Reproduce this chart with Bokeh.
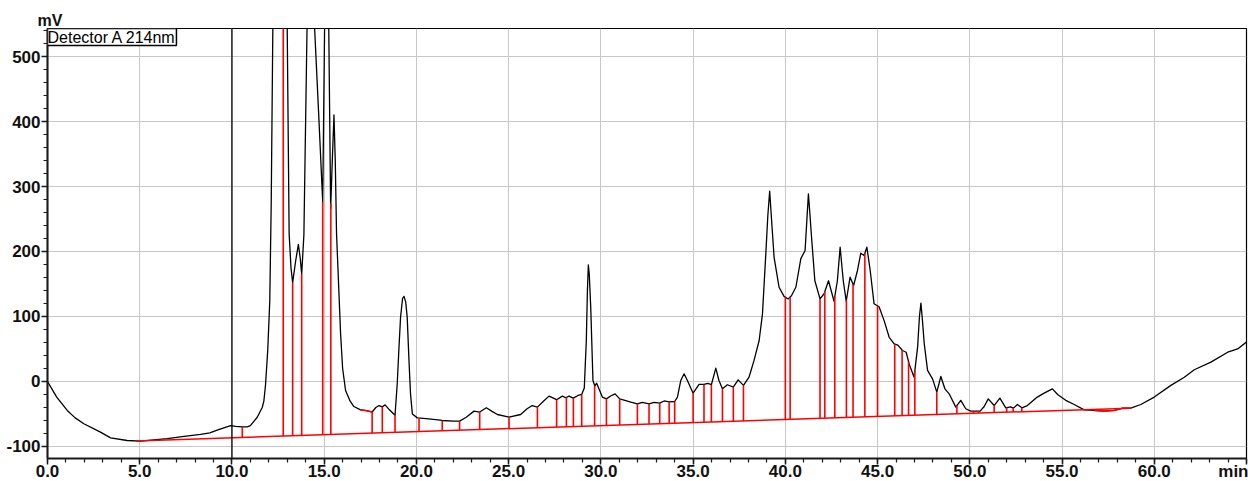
import numpy as np
from bokeh.plotting import figure
from bokeh.models import Range1d, FixedTicker, Span, Label, Title
from bokeh.embed import file_html
from bokeh.resources import INLINE

# ---------------- data ----------------
time_min = [0.0, 0.5, 1.07, 1.5, 1.97, 2.87, 3.42, 4.32, 5.04, 6.49, 7.4, 8.3, 8.8, 9.2, 9.6, 9.93,
            10.2, 10.56, 10.83, 11.0, 11.37, 11.64, 11.73, 11.82, 11.94, 12.05, 12.13, 12.25, 12.5,
            12.78, 12.97, 13.1, 13.2, 13.29, 13.45, 13.6, 13.7, 13.78, 13.9, 14.1, 14.2, 14.3, 14.71,
            14.92, 15.05, 15.13, 15.22, 15.35, 15.44, 15.53, 15.6, 15.67, 15.89, 16.0, 16.16, 16.4,
            16.61, 16.97, 17.3, 17.6, 17.8, 17.97, 18.15, 18.3, 18.55, 18.84, 18.96, 19.05, 19.14,
            19.25, 19.33, 19.42, 19.5, 19.6, 19.68, 19.78, 20.05, 20.23, 20.8, 21.4, 22.0, 22.34,
            22.7, 23.12, 23.43, 23.79, 24.1, 24.39, 25.02, 25.65, 26.0, 26.28, 26.56, 26.9, 27.19,
            27.6, 27.91, 28.1, 28.27, 28.5, 28.76, 28.96, 29.1, 29.21, 29.27, 29.32, 29.37, 29.45,
            29.57, 29.67, 29.77, 30.08, 30.3, 30.55, 30.77, 31.02, 31.3, 31.62, 31.98, 32.25, 32.61,
            32.88, 33.19, 33.43, 33.7, 34.0, 34.15, 34.33, 34.51, 34.69, 35.0, 35.32, 35.59, 35.8,
            35.99, 36.23, 36.4, 36.59, 36.86, 37.18, 37.44, 37.73, 38.03, 38.3, 38.58, 38.76, 38.94,
            39.05, 39.15, 39.25, 39.39, 39.66, 39.93, 40.15, 40.33, 40.57, 40.84, 41.07, 41.17,
            41.25, 41.33, 41.42, 41.6, 41.88, 42.1, 42.34, 42.64, 42.82, 42.97, 43.14, 43.3, 43.51,
            43.7, 43.91, 44.09, 44.27, 44.42, 44.6, 44.81, 45.08, 45.35, 45.63, 45.9, 46.1, 46.35,
            46.55, 46.71, 46.98, 47.17, 47.27, 47.35, 47.43, 47.53, 47.71, 47.98, 48.21, 48.43,
            48.65, 48.88, 49.24, 49.51, 49.78, 50.05, 50.56, 50.78, 51.0, 51.32, 51.63, 51.95, 52.2,
            52.37, 52.58, 52.82, 53.12, 53.66, 54.03, 54.48, 54.76, 55.2, 55.66, 56.2, 56.74, 57.3,
            57.83, 58.28, 58.73, 59.27, 60.0, 60.9, 61.63, 62.17, 63.07, 63.98, 64.52, 65.1]
signal_mv = [0, -24, -44.6, -56, -65, -78, -86.7, -90.8, -91.8, -88, -84.6, -81.5, -79, -75, -71, -68,
             -69, -69.7, -69.7, -68, -55, -40, -30, -5, 48, 124, 278, 650, 900,
             950, 620, 227, 175, 152, 185, 211, 190, 165, 226, 600, 700, 652, 406,
             276, 620, 700, 620, 266, 340, 410, 340, 227, 73, 20, -14, -30,
             -38.5, -43.6, -45, -47, -40, -37, -39, -36, -44, -52, -3, 50, 99,
             128, 131, 122, 99, 30, -19, -50, -56, -56.4, -58, -60, -61, -61,
             -55, -45.6, -47, -40.5, -46, -50.8, -54.9, -50.8, -42, -37, -39.5, -30, -22.5,
             -28, -22.5, -25, -22.5, -25.6, -21.5, -20, -10, 63, 140, 179.5, 165, 114,
             1.5, -7, -2.6, -24, -26.7, -22, -19, -26.7, -29, -31.8, -34.4, -32, -34.4,
             -32, -33.3, -30, -31.3, -30.8, -24, 1.5, 11.8, 1.5, -18, -4.6, -4.6, -3,
             -5, 20.5, 1.5, -11.3, -5, -8.7, 2.5, -6, 6.6, 32, 63, 104, 196,
             255, 292.8, 250, 191, 145, 131, 127, 132, 145, 189, 201.5, 250,
             288.7, 258, 222, 155, 127, 135, 155, 123.5, 155, 206.6, 155, 123.5, 160.5,
             147.7, 170.8, 197.4, 193.8, 206.6, 170.8, 119.5, 115, 94, 68, 58, 56, 47.7,
             45, 27, 6.6, 52.8, 100, 120.5, 95, 58, 17, 4, -16.4, 7.7,
             -11.3, -19, -39.5, -29, -42, -45.6, -45.6, -38.5, -26.7, -37, -25.6, -40.5, -39,
             -41, -35.4, -40.5, -37, -24, -18, -11.3, -20, -29, -35.4, -43.6, -44.6, -45.6,
             -44.6, -41, -41, -35.4, -24, -6, 6.6, 18, 29.7, 45, 50, 63]

# integration baseline (straight, start and end)
baseline_t = [4.8, 58.7]
baseline_mv = [-91.5, -41.0]

# peak separation (drop) lines
drop_t = [10.56, 12.78, 13.29, 13.78, 14.92, 15.36, 17.6, 18.15, 18.84, 20.14, 21.4, 22.34, 23.43,
          25.02, 26.56, 27.6, 28.13, 28.51, 28.96, 29.66, 30.3, 31.02, 31.98, 32.61, 33.19, 33.7,
          34.0, 35.0, 35.59, 35.99, 36.59, 37.18, 37.73, 40.0, 40.26, 41.88, 42.14, 42.68, 43.31,
          43.67, 44.31, 45.0, 45.93, 46.33, 46.68, 47.02, 48.21, 49.3, 50.2, 50.47, 51.32, 52.0,
          52.35, 52.82]

# stretches where the baseline follows the trace
baseline_on_trace = [(16.97, 17.6), (56.74, 58.73)]

marker_t = 10.0

x_tick_vals = [0, 5, 10, 15, 20, 25, 30, 35, 40, 45, 50, 55, 60]
x_tick_labels = ["0.0", "5.0", "10.0", "15.0", "20.0", "25.0", "30.0", "35.0", "40.0",
                 "45.0", "50.0", "55.0", "60.0"]
y_tick_vals = [-100, 0, 100, 200, 300, 400, 500]
y_tick_labels = ["-100", "0", "100", "200", "300", "400", "500"]

detector_text = "Detector A 214nm"
y_unit = "mV"
x_unit = "min"
x_unit_pos = 64.99  # where the unit sits along the time axis

# ---------------- figure ----------------
FONT = "Liberation Sans"
Y0, Y1 = -118.5, 543.1
p = figure(frame_width=1199, frame_height=430,
           x_range=Range1d(0, 65.0), y_range=Range1d(Y0, Y1),
           output_backend="svg", toolbar_location=None,
           min_border_left=47, min_border_right=2, min_border_top=28, min_border_bottom=0)
p.background_fill_color = "white"
p.border_fill_color = "white"
p.outline_line_color = "black"
p.outline_line_width = 1.2

# unit of the signal axis, as a title sitting just above the axis top
p.title = Title(text=y_unit, align="left", offset=-10, standoff=0,
                text_font=FONT, text_font_size="16px", text_font_style="bold",
                text_color="#111111")

# axes
p.xaxis.ticker = FixedTicker(ticks=x_tick_vals + [x_unit_pos], minor_ticks=list(range(0, 66)))
p.xaxis.major_label_overrides = {**dict(zip(x_tick_vals, x_tick_labels)), x_unit_pos: x_unit}
p.yaxis.ticker = FixedTicker(ticks=y_tick_vals, minor_ticks=list(range(-100, 541, 20)))
p.yaxis.major_label_overrides = dict(zip(y_tick_vals, y_tick_labels))
for ax in (p.xaxis[0], p.yaxis[0]):
    ax.axis_line_color = "#1a1a1a"
    ax.axis_line_width = 2
    ax.major_tick_line_color = "#1a1a1a"
    ax.minor_tick_line_color = "#1a1a1a"
    ax.major_tick_line_width = 1.5
    ax.minor_tick_line_width = 1.2
    ax.major_tick_in = 0
    ax.minor_tick_in = 0
    ax.major_tick_out = 6
    ax.minor_tick_out = 4
    ax.major_label_text_font = FONT
    ax.major_label_text_font_size = "17px"
    ax.major_label_text_font_style = "bold"
    ax.major_label_text_color = "#111111"
p.xaxis.major_label_standoff = -3
p.yaxis.major_label_standoff = 1

p.xgrid.ticker = FixedTicker(ticks=x_tick_vals)
p.ygrid.ticker = FixedTicker(ticks=y_tick_vals)
p.grid.grid_line_color = "#c8c8c8"
p.grid.grid_line_width = 1

# trace
t = np.array(time_min, dtype=float)
s = np.array(signal_mv, dtype=float)
p.line(t, s, line_color="black", line_width=1.3, line_join="round")

# drop lines from baseline up to the trace
dt = np.array(drop_t)
bottoms = np.interp(dt, baseline_t, baseline_mv)
tops = np.interp(dt, t, s)
p.segment(x0=dt, y0=bottoms, x1=dt, y1=tops, line_color="#ff0000", line_width=1.6)

# baseline
p.line(baseline_t, baseline_mv, line_color="#ff0000", line_width=1.5)
for a, b in baseline_on_trace:
    m = (t >= a) & (t <= b)
    p.line(t[m], s[m], line_color="#ff0000", line_width=1.5)

# marker at 10 min
p.add_layout(Span(location=marker_t, dimension="height", line_color="black", line_width=1.3))

# detector legend box
p.add_layout(Label(x=0, y=Y1, x_offset=0, y_offset=0, text=detector_text,
                   text_font=FONT, text_font_size="16px", text_color="black",
                   text_align="left", text_baseline="top",
                   border_line_color="black", border_line_width=1.5,
                   background_fill_color="white", padding=0))

open("out.html", "w").write(file_html(p, INLINE))
